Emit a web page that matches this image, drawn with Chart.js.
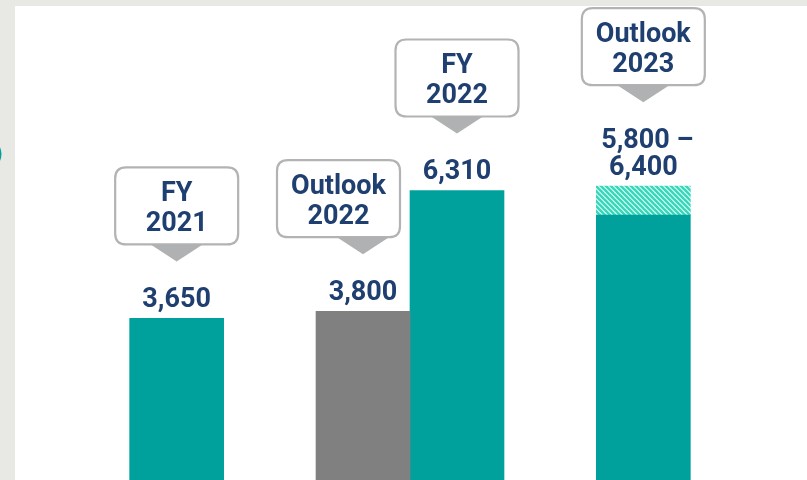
<!DOCTYPE html>
<html><head><meta charset="utf-8">
<script src="https://cdn.jsdelivr.net/npm/chart.js@4"></script>
<style>
html,body{margin:0;padding:0;overflow:hidden;background:#e8e8e4;width:807px;height:480px}
canvas{display:block}
</style></head>
<body><canvas id="c" width="807" height="500"></canvas>
<script>
// ---- data ----
const categories = ['2021', '2022', '2023'];
const outlookValues = [null, 3800, null];
const outlookCallouts = ['', 'Outlook\n2022', ''];
const mainValues = [3650, 6310, 5800];
const mainCallouts = ['FY\n2021', 'FY\n2022', 'Outlook\n2023'];
const rangeHigh = [null, null, 6400];
const yMax = 10000;

// ---- styles ----
const TEAL = '#00a19d', GRAY = '#808080', NAVY = '#1f3f70';
const BOX_BORDER = '#b3b3b3', POINTER = '#b0b1b3';
const FONT = 'bold 27px Roboto, "Noto Sans", sans-serif';

function hatch() {
  const s = 5, c = document.createElement('canvas');
  c.width = s; c.height = s;
  const g = c.getContext('2d');
  g.fillStyle = '#f0faf8'; g.fillRect(0, 0, s, s);
  g.strokeStyle = '#36d8bb'; g.lineWidth = 2.6;
  for (const o of [-s, 0, s]) {
    g.beginPath(); g.moveTo(o - 1, -1); g.lineTo(o + s + 1, s + 1); g.stroke();
  }
  return g.createPattern(c, 'repeat');
}
const fmt = v => v.toLocaleString('en-US');

const bgPlugin = {
  id: 'bg',
  beforeDraw(chart) {
    const ctx = chart.ctx;
    ctx.save();
    ctx.fillStyle = '#e8e8e4'; ctx.fillRect(0, 0, chart.width, chart.height);
    ctx.fillStyle = '#ffffff'; ctx.fillRect(15, 6, chart.width - 15, chart.height - 6);
    ctx.fillStyle = TEAL;
    ctx.beginPath(); ctx.arc(-14, 154, 15.5, 0, Math.PI * 2); ctx.fill();
    ctx.restore();
  }
};

function roundRect(ctx, x, y, w, h, r) {
  ctx.beginPath();
  ctx.moveTo(x + r, y); ctx.lineTo(x + w - r, y); ctx.quadraticCurveTo(x + w, y, x + w, y + r);
  ctx.lineTo(x + w, y + h - r); ctx.quadraticCurveTo(x + w, y + h, x + w - r, y + h);
  ctx.lineTo(x + r, y + h); ctx.quadraticCurveTo(x, y + h, x, y + h - r);
  ctx.lineTo(x, y + r); ctx.quadraticCurveTo(x, y, x + r, y);
  ctx.closePath();
}

const labelPlugin = {
  id: 'labels',
  afterDatasetsDraw(chart) {
    const ctx = chart.ctx;
    const m0 = chart.getDatasetMeta(0), m1 = chart.getDatasetMeta(1), m2 = chart.getDatasetMeta(2);
    const items = [];
    categories.forEach((c, i) => {
      const group = [];
      if (outlookValues[i] != null) {
        const el = m0.data[i];
        group.push({ el, top: el.y, lines: [fmt(outlookValues[i])], callout: outlookCallouts[i] });
      }
      const el = m1.data[i];
      if (rangeHigh[i] != null) {
        group.push({ el, top: m2.data[i].y, lines: [fmt(mainValues[i]) + ' \u2013', fmt(rangeHigh[i])], callout: mainCallouts[i] });
      } else {
        group.push({ el, top: el.y, lines: [fmt(mainValues[i])], callout: mainCallouts[i] });
      }
      group.forEach((g, k) => { g.next = group[k + 1]; items.push(g); });
    });
    ctx.save();
    ctx.font = FONT;
    ctx.textAlign = 'center';
    ctx.textBaseline = 'alphabetic';
    for (const it of items) {
      const x = it.el.x;
      const lastBase = it.top - 11;
      const n = it.lines.length;
      ctx.fillStyle = NAVY;
      it.lines.forEach((t, j) => ctx.fillText(t, x + (n > 1 && j === 0 ? 4 : 0), lastBase - (n - 1 - j) * 27));
      const capTop = lastBase - (n - 1) * 27 - 19;
      const tipY = capTop - 27;
      const boxBottom = tipY - 17;
      const bw = 123, bh = 77;
      let bx = x - bw / 2;
      if (it.next) {
        const limit = it.next.el.x - it.next.el.width / 2 - 10;
        if (bx + bw > limit) bx = limit - bw;
      }
      const by = boxBottom - bh;
      roundRect(ctx, bx, by, bw, bh, 11);
      ctx.fillStyle = '#ffffff'; ctx.fill();
      ctx.lineWidth = 2.2; ctx.strokeStyle = BOX_BORDER; ctx.stroke();
      ctx.beginPath();
      ctx.moveTo(x - 26, boxBottom); ctx.lineTo(x + 26, boxBottom); ctx.lineTo(x, tipY); ctx.closePath();
      ctx.fillStyle = POINTER; ctx.fill();
      ctx.fillStyle = NAVY;
      const cl = it.callout.split('\n');
      ctx.fillText(cl[0], bx + bw / 2, by + 34);
      ctx.fillText(cl[1], bx + bw / 2, by + 64);
    }
    ctx.restore();
  }
};

new Chart(document.getElementById('c'), {
  type: 'bar',
  data: {
    labels: categories,
    datasets: [
      { label: 'Outlook', data: outlookValues, backgroundColor: GRAY, stack: 'a' },
      { label: 'Actual', data: mainValues, backgroundColor: TEAL, stack: 'b' },
      { label: 'Range', data: rangeHigh.map((h, i) => h == null ? null : h - mainValues[i]), backgroundColor: hatch(), stack: 'b' }
    ]
  },
  options: {
    responsive: false,
    animation: false,
    layout: { padding: { left: 60, right: 47, top: 13, bottom: 6 } },
    datasets: { bar: { skipNull: true, barThickness: 94 } },
    scales: {
      x: { display: false, stacked: true },
      y: { display: false, stacked: true, min: 0, max: yMax }
    },
    plugins: { legend: { display: false }, tooltip: { enabled: false } }
  },
  plugins: [bgPlugin, labelPlugin]
});
</script>
</body></html>
